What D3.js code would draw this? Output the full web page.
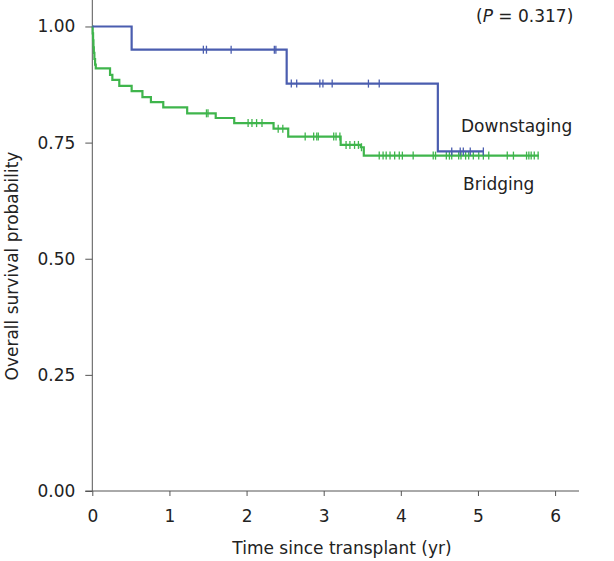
<!DOCTYPE html>
<html><head><meta charset="utf-8">
<script src="https://cdn.jsdelivr.net/npm/d3@7"></script>
<style>body{margin:0;background:#fff}svg{display:block}text{font-family:"DejaVu Sans",Verdana,sans-serif;fill:#222}</style>
</head><body><svg id="c" width="614" height="561"></svg>
<script>
// ---- data ----
const xTicks = [0,1,2,3,4,5,6];
const yTicks = [0,0.25,0.5,0.75,1];
const yTickLabels = ["0.00","0.25","0.50","0.75","1.00"];
const seriesNames = ["Downstaging","Bridging"];
// Downstaging (blue)
const downTimes = [0, 0.51, 2.52, 4.48];
const downSurv  = [1.0, 0.95, 0.877, 0.731];
const downEnd = 5.07;
const downCensor = [1.44,1.48,1.80,2.36,2.38,2.58,2.65,2.95,2.99,3.11,3.58,3.72,4.66,4.77,4.81,4.90,5.07];
// Bridging (green)
const bridTimes = [0,0.005,0.01,0.015,0.02,0.027,0.036,0.045,0.23,0.26,0.35,0.51,0.65,0.76,0.92,1.23,1.60,1.84,2.35,2.54,3.22,3.48,3.52];
const bridSurv  = [1.0,0.985,0.97,0.955,0.943,0.93,0.918,0.91,0.896,0.885,0.872,0.861,0.848,0.837,0.826,0.813,0.803,0.792,0.780,0.763,0.745,0.740,0.722];
const bridEnd = 5.79;
const bridCensor = [1.48,1.50,2.02,2.07,2.13,2.20,2.41,2.47,2.76,2.87,2.91,2.93,3.13,3.16,3.21,3.29,3.34,3.40,3.45,3.49,3.72,3.77,3.81,3.86,3.92,3.98,4.02,4.16,4.42,4.45,4.59,4.63,4.66,4.75,4.78,4.84,4.88,4.94,5.01,5.07,5.14,5.38,5.46,5.63,5.66,5.69,5.73,5.78];
const pText = "0.317";

// ---- scales ----
const svg = d3.select("#c");
const x = d3.scaleLinear().domain([0, 6.31]).range([92.3, 579]);
const y = d3.scaleLinear().domain([0, 1.057]).range([491, 0]);
const axisColor = "#555";

// x axis
const xa = svg.append("g").attr("transform","translate(0,491)")
  .call(d3.axisBottom(x).tickValues(xTicks).tickFormat(d3.format("d")).tickSize(5).tickSizeOuter(0));
xa.select(".domain").attr("d", `M${x(0)-7},0H${x.range()[1]}`).attr("stroke",axisColor);
xa.selectAll(".tick line").attr("stroke",axisColor);
xa.selectAll(".tick text").attr("y",19).attr("dy","0.71em").style("font-size","17px").attr("fill","#222");

// y axis
const ya = svg.append("g").attr("transform",`translate(${x(0)},0)`)
  .call(d3.axisLeft(y).tickValues(yTicks).tickFormat((d,i)=>yTickLabels[i]).tickSize(7).tickSizeOuter(0));
ya.select(".domain").attr("d", `M0,${y.range()[0]}V${y.range()[1]}`).attr("stroke",axisColor);
ya.selectAll(".tick line").attr("stroke",axisColor);
ya.selectAll(".tick text").attr("x",-17).style("font-size","17px").attr("fill","#222");

// titles
svg.append("text").attr("x",342).attr("y",554).attr("text-anchor","middle").style("font-size","17px").text("Time since transplant (yr)");
svg.append("text").attr("transform","translate(18,266) rotate(-90)").attr("text-anchor","middle").style("font-size","17px").text("Overall survival probability");

// curves
function drawKM(times, surv, end, censor, color){
  const pts = times.map((t,i)=>[t,surv[i]]);
  pts.push([end, surv[surv.length-1]]);
  const line = d3.line().x(d=>x(d[0])).y(d=>y(d[1])).curve(d3.curveStepAfter);
  svg.append("path").attr("d",line(pts)).attr("fill","none").attr("stroke",color).attr("stroke-width",2.2);
  const survAt = t => { let s = surv[0]; for(let i=0;i<times.length;i++){ if(times[i]<=t) s=surv[i]; } return s; };
  svg.append("g").selectAll("line").data(censor).join("line")
    .attr("x1",d=>x(d)).attr("x2",d=>x(d))
    .attr("y1",d=>y(survAt(d))-4).attr("y2",d=>y(survAt(d))+4)
    .attr("stroke",color).attr("stroke-width",1.3);
}
const blue = "#4a5daf", green = "#3fb54c";
drawKM(bridTimes, bridSurv, bridEnd, bridCensor, green);
drawKM(downTimes, downSurv, downEnd, downCensor, blue);

// labels
svg.append("text").attr("x",461).attr("y",132).style("font-size","17px").text(seriesNames[0]);
svg.append("text").attr("x",463).attr("y",190).style("font-size","17px").text(seriesNames[1]);
const pt = svg.append("text").attr("x",476).attr("y",22).style("font-size","17px");
pt.append("tspan").text("(");
pt.append("tspan").attr("font-style","italic").text("P");
pt.append("tspan").text(" = " + pText + ")");
</script></body></html>
